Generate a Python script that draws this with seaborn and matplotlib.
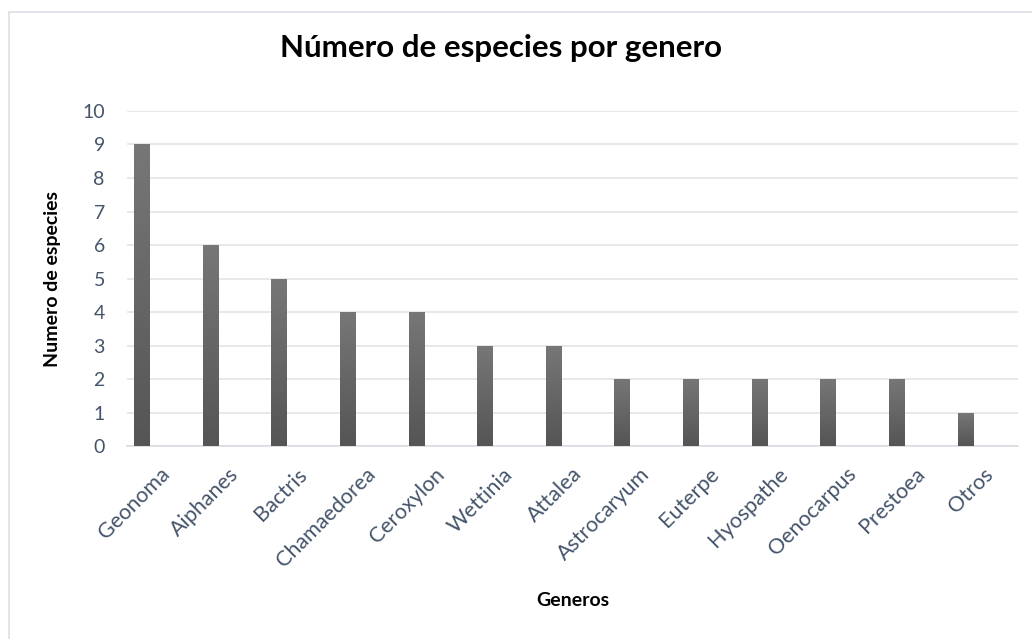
import numpy as np
import pandas as pd
import seaborn as sns
import matplotlib.pyplot as plt
from matplotlib.lines import Line2D

generos = ['Geonoma', 'Aiphanes', 'Bactris', 'Chamaedorea', 'Ceroxylon', 'Wettinia',
           'Attalea', 'Astrocaryum', 'Euterpe', 'Hyospathe', 'Oenocarpus', 'Prestoea', 'Otros']
especies = [9, 6, 5, 4, 4, 3, 3, 2, 2, 2, 2, 2, 1]
df = pd.DataFrame({'Generos': generos, 'Numero de especies': especies})

sns.set_theme(style='white')
plt.rcParams['font.family'] = ['Lato', 'DejaVu Sans']

fig = plt.figure(figsize=(10.32, 6.39), dpi=100)
ax = fig.add_axes([0.1231, 0.302, 0.8634, 0.5243])

sns.barplot(data=df, x='Generos', y='Numero de especies', color='#666666',
            width=0.233, ax=ax, zorder=3)

# vertical gradient on each bar
grad = np.linspace(0, 1, 256).reshape(-1, 1)
cmap = plt.matplotlib.colors.LinearSegmentedColormap.from_list('g', ['#555555', '#777777'])
for p in ax.patches:
    x0, y0 = p.get_x(), p.get_y()
    w, h = p.get_width(), p.get_height()
    im = ax.imshow(grad, cmap=cmap, aspect='auto', origin='lower',
                   extent=[x0, x0 + w, y0, y0 + h], zorder=4)
    im.set_clip_path(p)
    p.set_edgecolor('none')

ax.set_xlim(-0.219, 12.765)
ax.set_ylim(0, 10)
ax.set_yticks(range(0, 11))
ax.set_xticks(np.arange(13) + 0.255)
ax.set_xticklabels(generos, rotation=45, ha='right', rotation_mode='anchor')
ax.tick_params(axis='y', length=0, labelsize=14, labelcolor='#44546A', pad=16)
ax.tick_params(axis='x', length=0, labelsize=15.5, labelcolor='#44546A', pad=13)
ax.grid(axis='y', color='#E1E4E8', linewidth=1.2, zorder=0)
ax.set_axisbelow(True)
for s in ['top', 'right', 'left']:
    ax.spines[s].set_visible(False)
ax.spines['bottom'].set_color('#D9DCE1')
ax.spines['bottom'].set_linewidth(1.2)

ax.set_xlabel('Generos', fontsize=14, fontweight='bold', color='black', labelpad=15)
ax.set_ylabel('Numero de especies', fontsize=14, fontweight='bold', color='black', labelpad=15)

fig.text(0.485, 0.925, 'Número de especies por genero', ha='center', va='center',
         fontsize=22.5, fontweight='bold', color='black')

# chart frame (partially cropped)
fig.add_artist(Line2D([9 / 1032, 1], [1 - 12 / 639, 1 - 12 / 639], color='#DCE0E5', lw=1.2))
fig.add_artist(Line2D([9 / 1032, 9 / 1032], [0, 1 - 12 / 639], color='#DCE0E5', lw=1.2))

fig.savefig('out.png', dpi=100)
